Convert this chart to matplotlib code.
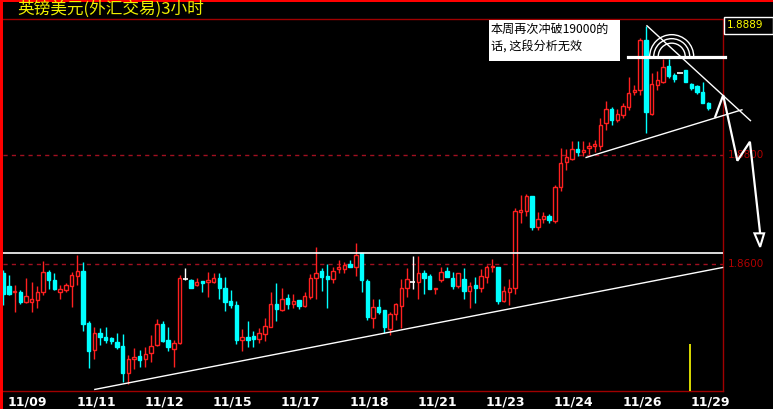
import matplotlib
matplotlib.use("Agg")
import matplotlib.pyplot as plt
from matplotlib.patches import Rectangle, Arc, Polygon
import numpy as np

# GBP/USD 3-hour bars
opens = [1.8583, 1.8559, 1.8547, 1.8548, 1.8530, 1.8530, 1.8533, 1.8547, 1.8585, 1.8570,
         1.8548, 1.8551, 1.8559, 1.8578, 1.8587, 1.8491, 1.8440, 1.8473, 1.8465, 1.8462,
         1.8456, 1.8448, 1.8399, 1.8425, 1.8430, 1.8424, 1.8435, 1.8450, 1.8489, 1.8459,
         1.8443, 1.8453, 1.8572, 1.8570, 1.8560, 1.8568, 1.8567, 1.8566, 1.8574, 1.8556,
         1.8531, 1.8524, 1.8460, 1.8465, 1.8467, 1.8461, 1.8470, 1.8484, 1.8526, 1.8515,
         1.8536, 1.8525, 1.8533, 1.8522, 1.8539, 1.8573, 1.8587, 1.8578, 1.8572, 1.8590,
         1.8590, 1.8599, 1.8593, 1.8619, 1.8568, 1.8500, 1.8520, 1.8515, 1.8480, 1.8508,
         1.8522, 1.8555, 1.8567, 1.8567, 1.8582, 1.8577, 1.8553, 1.8569, 1.8587, 1.8574,
         1.8558, 1.8571, 1.8550, 1.8561, 1.8556, 1.8576, 1.8593, 1.8594, 1.8532, 1.8548,
         1.8556, 1.8696, 1.8697, 1.8724, 1.8668, 1.8682, 1.8688, 1.8679, 1.8741, 1.8788,
         1.8794, 1.8812, 1.8807, 1.8813, 1.8817, 1.8817, 1.8859, 1.8885, 1.8866, 1.8874,
         1.8890, 1.8916, 1.8920, 1.9013, 1.8877, 1.8930, 1.8936, 1.8965, 1.8948, 1.8951,
         1.8957, 1.8932, 1.8927, 1.8917, 1.8897]
highs = [1.8588, 1.8579, 1.8561, 1.8551, 1.8574, 1.8567, 1.8559, 1.8605, 1.8588, 1.8583,
         1.8561, 1.8565, 1.8585, 1.8616, 1.8604, 1.8495, 1.8483, 1.8481, 1.8483, 1.8465,
         1.8473, 1.8470, 1.8432, 1.8445, 1.8441, 1.8447, 1.8468, 1.8498, 1.8494, 1.8483,
         1.8460, 1.8579, 1.8592, 1.8571, 1.8573, 1.8568, 1.8584, 1.8582, 1.8582, 1.8576,
         1.8551, 1.8531, 1.8480, 1.8494, 1.8476, 1.8481, 1.8499, 1.8547, 1.8565, 1.8555,
         1.8544, 1.8545, 1.8533, 1.8547, 1.8581, 1.8631, 1.8592, 1.8599, 1.8593, 1.8607,
         1.8604, 1.8607, 1.8638, 1.8619, 1.8572, 1.8534, 1.8534, 1.8515, 1.8510, 1.8528,
         1.8571, 1.8592, 1.8614, 1.8614, 1.8588, 1.8581, 1.8556, 1.8593, 1.8593, 1.8584,
         1.8583, 1.8592, 1.8566, 1.8575, 1.8590, 1.8598, 1.8608, 1.8594, 1.8559, 1.8572,
         1.8702, 1.8727, 1.8729, 1.8725, 1.8696, 1.8696, 1.8692, 1.8745, 1.8814, 1.8812,
         1.8826, 1.8826, 1.8826, 1.8825, 1.8828, 1.8869, 1.8901, 1.8890, 1.8885, 1.8896,
         1.8945, 1.8930, 1.9016, 1.9039, 1.8951, 1.8956, 1.8977, 1.8977, 1.8951, 1.8951,
         1.8957, 1.8934, 1.8930, 1.8935, 1.8899]
lows = [1.8524, 1.8542, 1.8511, 1.8526, 1.8527, 1.8510, 1.8519, 1.8542, 1.8553, 1.8551,
        1.8534, 1.8547, 1.8521, 1.8561, 1.8476, 1.8408, 1.8424, 1.8450, 1.8454, 1.8452,
        1.8443, 1.8382, 1.8378, 1.8406, 1.8409, 1.8410, 1.8419, 1.8448, 1.8456, 1.8438,
        1.8409, 1.8452, 1.8570, 1.8556, 1.8559, 1.8547, 1.8539, 1.8564, 1.8535, 1.8513,
        1.8518, 1.8452, 1.8438, 1.8447, 1.8447, 1.8454, 1.8458, 1.8483, 1.8495, 1.8513,
        1.8516, 1.8519, 1.8516, 1.8521, 1.8534, 1.8534, 1.8550, 1.8518, 1.8565, 1.8582,
        1.8583, 1.8593, 1.8577, 1.8548, 1.8496, 1.8482, 1.8507, 1.8473, 1.8468, 1.8496,
        1.8482, 1.8538, 1.8553, 1.8535, 1.8544, 1.8553, 1.8544, 1.8567, 1.8575, 1.8553,
        1.8556, 1.8535, 1.8519, 1.8527, 1.8547, 1.8565, 1.8584, 1.8525, 1.8530, 1.8524,
        1.8544, 1.8676, 1.8688, 1.8662, 1.8662, 1.8675, 1.8676, 1.8676, 1.8735, 1.8773,
        1.8791, 1.8799, 1.8799, 1.8802, 1.8807, 1.8810, 1.8847, 1.8855, 1.8861, 1.8869,
        1.8884, 1.8911, 1.8911, 1.8842, 1.8875, 1.8920, 1.8933, 1.8943, 1.8935, 1.8951,
        1.8935, 1.8920, 1.8913, 1.8896, 1.8884]
closes = [1.8545, 1.8544, 1.8550, 1.8529, 1.8540, 1.8534, 1.8548, 1.8585, 1.8570, 1.8553,
          1.8553, 1.8560, 1.8579, 1.8587, 1.8489, 1.8439, 1.8472, 1.8465, 1.8459, 1.8458,
          1.8446, 1.8399, 1.8425, 1.8428, 1.8422, 1.8433, 1.8449, 1.8489, 1.8457, 1.8447,
          1.8453, 1.8573, 1.8572, 1.8556, 1.8566, 1.8565, 1.8570, 1.8574, 1.8556, 1.8530,
          1.8524, 1.8459, 1.8465, 1.8459, 1.8461, 1.8472, 1.8485, 1.8526, 1.8516, 1.8534,
          1.8526, 1.8531, 1.8522, 1.8540, 1.8573, 1.8582, 1.8576, 1.8572, 1.8587, 1.8593,
          1.8598, 1.8594, 1.8616, 1.8569, 1.8502, 1.8520, 1.8511, 1.8483, 1.8507, 1.8526,
          1.8556, 1.8571, 1.8567, 1.8582, 1.8574, 1.8553, 1.8555, 1.8584, 1.8576, 1.8559,
          1.8582, 1.8550, 1.8559, 1.8556, 1.8577, 1.8594, 1.8596, 1.8532, 1.8550, 1.8555,
          1.8698, 1.8699, 1.8725, 1.8667, 1.8682, 1.8688, 1.8681, 1.8741, 1.8785, 1.8797,
          1.8811, 1.8807, 1.8810, 1.8818, 1.8820, 1.8856, 1.8885, 1.8866, 1.8877, 1.8891,
          1.8915, 1.8920, 1.9013, 1.8880, 1.8932, 1.8939, 1.8963, 1.8947, 1.8940, 1.8951,
          1.8936, 1.8924, 1.8917, 1.8897, 1.8887]

date_ticks = [4.3, 16.3, 28.3, 40.3, 52.3, 64.3, 76.3, 88.3, 100.3, 112.3, 124.3]
date_labels = ["11/09", "11/11", "11/12", "11/15", "11/17", "11/18",
               "11/21", "11/23", "11/24", "11/26", "11/29"]
price_levels = [1.8800, 1.8600]
last_price = "1.8889"

# hand drawn studies on the chart (bar index, price)
resistance = 1.8619
support_x, support_y = [16.1, 126.5], [1.8368, 1.8593]
upper_x, upper_y = [102.5, 129.9], [1.8796, 1.8884]
down_x, down_y = [113.2, 131.4], [1.9039, 1.8864]
top_x, top_level = [109.9, 126.9], 1.8982
arc_center = (117.55, 1.8982)
arc_sizes = [(7.74, 0.00812), (6.33, 0.00664), (4.75, 0.00498)]
zigzag_x = [125.2, 126.6, 129.1, 131.3, 133.1]
zigzag_y = [1.8871, 1.8911, 1.8790, 1.8825, 1.8656]
arrow_head = [(132.1, 1.8656), (133.8, 1.8656), (133.1, 1.8631)]
cursor_x, cursor_top = 120.8, 1.8452

note = ["本周再次冲破19000的", "话, 这段分析无效"]
title = "英镑美元(外汇交易)3小时"

W, H = 773, 409
fig = plt.figure(figsize=(W / 100, H / 100), dpi=100, facecolor="black")
ax = fig.add_axes([3 / W, (H - 391) / H, 720 / W, 372 / H], facecolor="black")

RED = "#ff2020"
CYAN = "#00ffff"
DARK = "#a00000"

x = np.arange(len(opens))
o = np.array(opens)
c = np.array(closes)
hi = np.array(highs)
lo = np.array(lows)
up = c > o
down = c < o
flat = c == o

cols = np.where(up, RED, np.where(down, CYAN, "white"))
ax.vlines(x, lo, hi, colors=cols, linewidth=1, zorder=2)

bw = 0.6
ax.bar(x[up], (c - o)[up], bottom=o[up], width=bw, facecolor="black",
       edgecolor=RED, linewidth=1, zorder=3)
ax.bar(x[down], (o - c)[down], bottom=c[down], width=bw, facecolor=CYAN,
       edgecolor=CYAN, linewidth=1, zorder=3)
ax.hlines(o[flat], x[flat] - 0.45, x[flat] + 0.45, colors="white", linewidth=1.2, zorder=3)

ax.set_xlim(-0.05, 126.57)
ax.set_ylim(1.83651, 1.90515)

for p in price_levels:
    ax.axhline(p, color="#a01020", linestyle=(0, (3, 3)), linewidth=1, zorder=1)
    ax.text(1.006, p, f"{p:.4f}", transform=ax.get_yaxis_transform(), color="#b00000",
            fontsize=7.5, va="center", ha="left", clip_on=False)

# studies
ax.axhline(resistance, color="white", linewidth=1.2, zorder=4)
ax.plot(support_x, support_y, color="white", linewidth=1, zorder=4, clip_on=False)
ax.plot(upper_x, upper_y, color="white", linewidth=1, zorder=4, clip_on=False)
ax.plot(down_x, down_y, color="white", linewidth=1, zorder=4, clip_on=False)
ax.plot(top_x, [top_level, top_level], color="white", linewidth=2.3, zorder=4, clip_on=False)
for w_, h_ in arc_sizes:
    ax.add_patch(Arc(arc_center, w_, h_, theta1=0, theta2=180, color="white",
                     linewidth=1, zorder=4))
ax.plot(zigzag_x, zigzag_y, color="white", linewidth=1.6, zorder=5, clip_on=False,
        solid_joinstyle="miter")
ax.add_patch(Polygon(arrow_head, closed=True, facecolor="black", edgecolor="white",
                     linewidth=1.5, zorder=5, clip_on=False))
ax.vlines(cursor_x, 1.83651, cursor_top, colors="#ffff00", linewidth=1.2, zorder=4)

ax.set_xticks(date_ticks)
ax.set_xticklabels(date_labels, color="white", fontsize=9, fontweight="bold")
ax.tick_params(axis="x", length=0, pad=3)
ax.set_yticks([])
for s in ["top", "right", "bottom"]:
    ax.spines[s].set_color(DARK)
    ax.spines[s].set_linewidth(1)
ax.spines["left"].set_visible(False)

# frame and headers
fig.patches.append(Rectangle((0, 0), 3 / W, 1, transform=fig.transFigure,
                             facecolor="#ff0000", edgecolor="none"))
fig.patches.append(Rectangle((0, 1 - 2 / H), 1, 2 / H, transform=fig.transFigure,
                             facecolor="#ff0000", edgecolor="none"))
fig.text(17 / W, 1 - 9.5 / H, title, color="#f0f000", fontsize=12, va="center",
         ha="left", family=["Noto Sans CJK SC", "DejaVu Sans"])

fig.patches.append(Rectangle((489 / W, 1 - 61 / H), 131 / W, 41 / H, transform=fig.transFigure,
                             facecolor="white", edgecolor="none", zorder=6))
fig.text(491 / W, 1 - 29 / H, note[0], color="black", fontsize=8.7, va="center",
         ha="left", family=["Noto Sans CJK SC", "DejaVu Sans"], zorder=7)
fig.text(491 / W, 1 - 46 / H, note[1], color="black", fontsize=8.7, va="center",
         ha="left", family=["Noto Sans CJK SC", "DejaVu Sans"], zorder=7)

fig.patches.append(Rectangle((723.5 / W, 1 - 33.5 / H), 49 / W, 16.5 / H, transform=fig.transFigure,
                             facecolor="black", edgecolor="white", linewidth=1, zorder=6))
fig.text(727 / W, 1 - 25.5 / H, last_price, color="#ffff00", fontsize=7.5, va="center",
         ha="left", zorder=7)

fig.savefig("out.png", dpi=100, facecolor="black")
